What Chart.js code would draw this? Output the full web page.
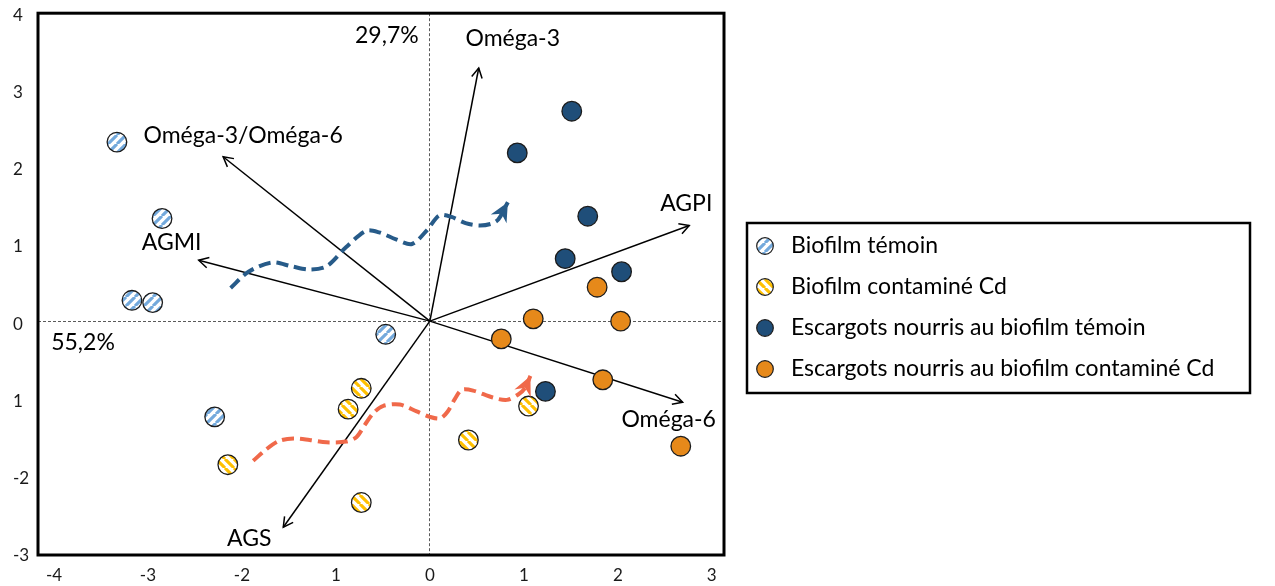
<!DOCTYPE html>
<html>
<head>
<meta charset="utf-8">
<script src="https://cdn.jsdelivr.net/npm/chart.js@4.4.1/dist/chart.umd.min.js"></script>
<style>
  html, body { margin: 0; padding: 0; background: #ffffff; }
  #wrap { width: 1275px; height: 586px; position: relative; }
</style>
</head>
<body>
<div id="wrap"><canvas id="c" width="1275" height="586"></canvas></div>
<script>
// ACP des acides gras : scores des échantillons sur les axes 1 (55,2%) et 2 (29,7%)
const seriesNames = [
  'Biofilm témoin',
  'Biofilm contaminé Cd',
  'Escargots nourris au biofilm témoin',
  'Escargots nourris au biofilm contaminé Cd'
];
const biofilmTemoinX   = [-3.33, -2.85, -3.17, -2.95, -0.47, -2.29];
const biofilmTemoinY   = [ 2.32,  1.33,  0.27,  0.24, -0.17, -1.24];
const biofilmCdX       = [-2.15, -0.73, -0.87, -0.73,  0.41,  1.05];
const biofilmCdY       = [-1.86, -0.87, -1.14, -2.35, -1.54, -1.10];
const escargotsTemoinX = [ 1.51,  0.93,  1.68,  1.44,  2.04,  1.23];
const escargotsTemoinY = [ 2.72,  2.18,  1.36,  0.81,  0.64, -0.91];
const escargotsCdX     = [ 1.78,  1.10,  2.03,  0.76,  1.84,  2.67];
const escargotsCdY     = [ 0.44,  0.03,  0.00, -0.23, -0.76, -1.62];

// Variables (cercle des corrélations, mis à l'échelle)
const loadingNames = ['Oméga-3', 'Oméga-3/Oméga-6', 'AGMI', 'AGPI', 'Oméga-6', 'AGS'];
const loadingX     = [ 0.52, -2.20, -2.46, 2.76,  2.69, -1.56];
const loadingY     = [ 3.28,  2.13,  0.79, 1.24, -1.05, -2.67];

// Flèches de tendance biofilm -> escargots
const trendTemoinX = [-2.12, -1.93, -1.68, -1.47, -1.29, -1.10, -0.89, -0.68, -0.54, -0.36, -0.19, -0.03, 0.10, 0.23, 0.38, 0.52, 0.65, 0.73, 0.83];
const trendTemoinY = [ 0.43,  0.64,  0.76,  0.71,  0.67,  0.71,  0.96,  1.17,  1.15,  1.06,  1.00,  1.18, 1.37, 1.35, 1.27, 1.24, 1.26, 1.32, 1.54];
const trendCdX = [-1.88, -1.74, -1.60, -1.45, -1.28, -1.10, -0.89, -0.78, -0.69, -0.60, -0.50, -0.32, -0.14, 0.00, 0.11, 0.19, 0.27, 0.34, 0.46, 0.67, 0.82, 0.94, 1.01, 1.07];
const trendCdY = [-1.81, -1.66, -1.55, -1.52, -1.54, -1.57, -1.56, -1.50, -1.34, -1.19, -1.10, -1.08, -1.17, -1.24, -1.26, -1.17, -1.00, -0.89, -0.90, -0.99, -1.02, -0.95, -0.87, -0.71];

// Graduations
const xTicks      = [-4, -3, -2, -1, 0, 1, 2, 3];
const xTickLabels = ['-4', '-3', '-2', '1', '0', '1', '2', '3'];
const yTicks      = [-3, -2, -1, 0, 1, 2, 3, 4];
const yTickLabels = ['-3', '-2', '1', '0', '1', '2', '3', '4'];
const axisLabelPc1 = '55,2%';
const axisLabelPc2 = '29,7%';

// ---- styles ----
const FONT = 'Lato, "Open Sans", "DejaVu Sans", sans-serif';
const labelOffsets = {            // décalage (px) du libellé par rapport à la pointe de la flèche
  'Oméga-3':         [34, -29],
  'Oméga-3/Oméga-6': [20, -21],
  'AGMI':            [-27, -18],
  'AGPI':            [-3, -22],
  'Oméga-6':         [-14, 17],
  'AGS':             [-34, 11]
};

const canvas = document.getElementById('c');
const ctx2d = canvas.getContext('2d');

function stripes(color, dir) {
  const s = 9;
  const tile = document.createElement('canvas');
  tile.width = s; tile.height = s;
  const g = tile.getContext('2d');
  g.fillStyle = '#ffffff';
  g.fillRect(0, 0, s, s);
  g.strokeStyle = color;
  g.lineWidth = 3.1;
  g.beginPath();
  for (const k of [-1, 0, 1]) {
    if (dir === '/') { g.moveTo(k * s, s); g.lineTo(k * s + s, 0); }
    else { g.moveTo(k * s, 0); g.lineTo(k * s + s, s); }
  }
  g.stroke();
  return ctx2d.createPattern(tile, 'repeat');
}

const blueHatch = stripes('#73a9dc', '/');
const goldHatch = stripes('#ffc000', '\\');
const darkBlue = '#1f4e79';
const orange = '#e6891a';

const pts = (xs, ys) => xs.map((x, i) => ({ x: x, y: ys[i] }));

const markerBase = {
  showLine: false,
  pointRadius: 9.8,
  pointHoverRadius: 9.8,
  pointBorderWidth: 1.3,
  pointBorderColor: '#1c1c1c',
  order: 0
};

const datasets = [
  Object.assign({ label: seriesNames[0], data: pts(biofilmTemoinX, biofilmTemoinY), pointBackgroundColor: blueHatch, backgroundColor: blueHatch }, markerBase),
  Object.assign({ label: seriesNames[1], data: pts(biofilmCdX, biofilmCdY), pointBackgroundColor: goldHatch, backgroundColor: goldHatch }, markerBase),
  Object.assign({ label: seriesNames[2], data: pts(escargotsTemoinX, escargotsTemoinY), pointBackgroundColor: darkBlue, backgroundColor: darkBlue }, markerBase),
  Object.assign({ label: seriesNames[3], data: pts(escargotsCdX, escargotsCdY), pointBackgroundColor: orange, backgroundColor: orange }, markerBase)
];
const legendCount = datasets.length;

datasets.push({
  label: 'tendance témoin', kind: 'trend', data: pts(trendTemoinX, trendTemoinY),
  showLine: true, tension: 0.3, borderColor: '#275b89', borderWidth: 4,
  borderDash: [12, 6], pointRadius: 0, order: 1
});
datasets.push({
  label: 'tendance Cd', kind: 'trend', data: pts(trendCdX, trendCdY),
  showLine: true, tension: 0.3, borderColor: '#f0694a', borderWidth: 4,
  borderDash: [12, 6], pointRadius: 0, order: 1
});
loadingNames.forEach((name, i) => {
  datasets.push({
    label: name, kind: 'loading', data: [{ x: 0, y: 0 }, { x: loadingX[i], y: loadingY[i] }],
    showLine: true, tension: 0, borderColor: '#000000', borderWidth: 1.5,
    pointRadius: 0, order: 2
  });
});

function pix(chart, x, y) {
  return [chart.scales.x.getPixelForValue(x), chart.scales.y.getPixelForValue(y)];
}

const overlay = {
  id: 'overlay',
  beforeDatasetsDraw(chart) {
    const a = chart.chartArea, c = chart.ctx;
    c.save();
    c.strokeStyle = '#000000';
    c.lineWidth = 3;
    c.strokeRect(a.left, a.top, a.right - a.left, a.bottom - a.top);
    c.restore();
  },
  afterDatasetsDraw(chart) {
    const c = chart.ctx;
    c.save();
    // pointes ouvertes des vecteurs variables + libellés
    chart.data.datasets.forEach(ds => {
      if (ds.kind !== 'loading') return;
      const [x0, y0] = pix(chart, ds.data[0].x, ds.data[0].y);
      const [x1, y1] = pix(chart, ds.data[1].x, ds.data[1].y);
      const ang = Math.atan2(y1 - y0, x1 - x0);
      const L = 11, spread = 0.5;
      c.strokeStyle = '#000000';
      c.lineWidth = 1.5;
      c.beginPath();
      c.moveTo(x1 - L * Math.cos(ang - spread), y1 - L * Math.sin(ang - spread));
      c.lineTo(x1, y1);
      c.lineTo(x1 - L * Math.cos(ang + spread), y1 - L * Math.sin(ang + spread));
      c.stroke();
      const off = labelOffsets[ds.label] || [0, 0];
      c.fillStyle = '#000000';
      c.font = '23px ' + FONT;
      c.textAlign = 'center';
      c.textBaseline = 'middle';
      c.fillText(ds.label, x1 + off[0], y1 + off[1]);
    });
    // têtes pleines des flèches de tendance
    chart.data.datasets.forEach(ds => {
      if (ds.kind !== 'trend') return;
      const n = ds.data.length;
      const [xa, ya] = pix(chart, ds.data[n - 2].x, ds.data[n - 2].y);
      const [xb, yb] = pix(chart, ds.data[n - 1].x, ds.data[n - 1].y);
      const ang = Math.atan2(yb - ya, xb - xa);
      const L = 19, W = 9, notch = 6;
      const ux = Math.cos(ang), uy = Math.sin(ang);
      const nx = -uy, ny = ux;
      c.fillStyle = ds.borderColor;
      c.beginPath();
      c.moveTo(xb, yb);
      c.lineTo(xb - L * ux + W * nx, yb - L * uy + W * ny);
      c.lineTo(xb - (L - notch) * ux, yb - (L - notch) * uy);
      c.lineTo(xb - L * ux - W * nx, yb - L * uy - W * ny);
      c.closePath();
      c.fill();
    });
    // pourcentages d'inertie des axes
    const a = chart.chartArea;
    c.fillStyle = '#000000';
    c.font = '23px ' + FONT;
    c.textBaseline = 'middle';
    c.textAlign = 'center';
    c.fillText(axisLabelPc2, chart.scales.x.getPixelForValue(0) - 43, a.top + 22);
    c.fillText(axisLabelPc1, a.left + 45, chart.scales.y.getPixelForValue(0) + 21);
    c.restore();
  },
  afterDraw(chart) {
    // légende encadrée
    const c = chart.ctx;
    const box = { left: 747, top: 223, right: 1250, bottom: 393 };
    c.save();
    c.strokeStyle = '#000000';
    c.lineWidth = 2.5;
    c.strokeRect(box.left, box.top, box.right - box.left, box.bottom - box.top);
    c.font = '23px ' + FONT;
    c.textAlign = 'left';
    c.textBaseline = 'middle';
    for (let i = 0; i < legendCount; i++) {
      const ds = chart.data.datasets[i];
      const cy = 246 + i * 41;
      c.beginPath();
      c.arc(765, cy, 8.3, 0, Math.PI * 2);
      c.fillStyle = ds.pointBackgroundColor;
      c.fill();
      c.lineWidth = 1.2;
      c.strokeStyle = '#1c1c1c';
      c.stroke();
      c.fillStyle = '#000000';
      c.fillText(ds.label, 791, cy);
    }
    c.restore();
  }
};

const tickFont = { family: FONT, size: 17 };

new Chart(canvas, {
  type: 'scatter',
  data: { datasets: datasets },
  options: {
    responsive: false,
    devicePixelRatio: 1,
    animation: false,
    events: [],
    layout: { padding: { left: 13, right: 551, top: 8, bottom: 0 } },
    plugins: { legend: { display: false }, tooltip: { enabled: false } },
    scales: {
      x: {
        type: 'linear', min: -4.17, max: 3.13, bounds: 'data',
        afterBuildTicks: s => { s.ticks = xTicks.map(v => ({ value: v })); },
        afterFit: s => { s.height = 31; },
        grid: {
          drawTicks: false, lineWidth: 1,
          color: ctx => (ctx.tick && ctx.tick.value === 0) ? '#5a5a5a' : 'rgba(0,0,0,0)'
        },
        border: { display: false, dash: [3, 2] },
        ticks: {
          font: tickFont, color: '#1a1a1a', padding: 10, maxRotation: 0, autoSkip: false,
          callback: (v, i) => xTickLabels[i]
        }
      },
      y: {
        type: 'linear', min: -3.03, max: 3.99, bounds: 'data',
        afterBuildTicks: s => { s.ticks = yTicks.map(v => ({ value: v })); },
        afterFit: s => { s.width = 25; },
        grid: {
          drawTicks: false, lineWidth: 1,
          color: ctx => (ctx.tick && ctx.tick.value === 0) ? '#5a5a5a' : 'rgba(0,0,0,0)'
        },
        border: { display: false, dash: [3, 2] },
        ticks: {
          font: tickFont, color: '#1a1a1a', crossAlign: 'far', labelOffset: 3, autoSkip: false,
          callback: (v, i) => yTickLabels[i]
        }
      }
    }
  },
  plugins: [overlay]
});
</script>
</body>
</html>
